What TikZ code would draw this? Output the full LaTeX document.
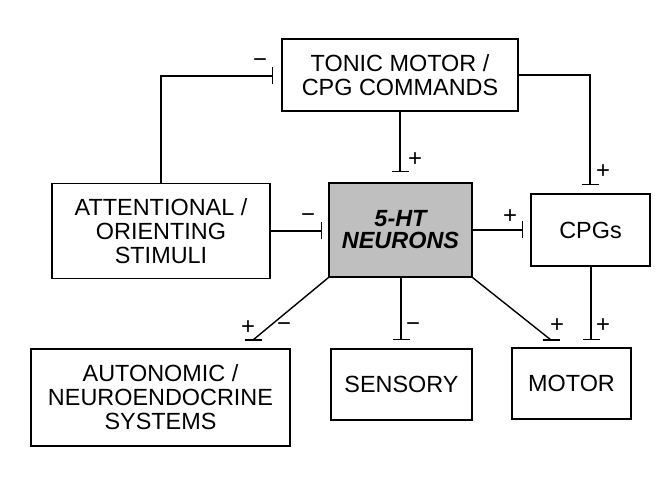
\documentclass[tikz,border=0pt]{standalone}
\usepackage{fontspec}
\setmainfont{Liberation Sans}
\usetikzlibrary{arrows.meta}
\begin{document}
\begin{tikzpicture}[x=1bp,y=-1bp,
  box/.style={draw,line width=1.4bp,align=center,inner sep=0pt,
    font=\fontsize{23.5}{24}\selectfont},
  inh/.style={line width=1.4bp,-{Bar[width=17bp,line width=1.4bp]}},
  plain/.style={line width=1.4bp},
  sign/.style={font=\fontsize{24}{24}\selectfont,inner sep=0pt}]
\useasboundingbox (0,0) rectangle (668,482);
\node[box,minimum width=236bp,minimum height=72bp] (ton) at (400,75) {TONIC MOTOR /\\CPG COMMANDS};
\node[box,minimum width=218bp,minimum height=95bp] (att) at (161,231) {ATTENTIONAL /\\ORIENTING\\STIMULI};
\node[box,minimum width=143bp,minimum height=94bp,fill=black!25,
  font=\fontsize{23.5}{22}\selectfont\bfseries\itshape] (ht) at (400.5,230) {5-HT\\NEURONS};
\node[box,minimum width=119bp,minimum height=72bp] (cpg) at (590.5,230) {CPGs};
\node[box,minimum width=259bp,minimum height=97bp] (aut) at (160.5,397.5) {AUTONOMIC /\\NEUROENDOCRINE\\SYSTEMS};
\node[box,minimum width=141bp,minimum height=71bp] (sen) at (401.5,384.5) {SENSORY};
\node[box,minimum width=119bp,minimum height=71bp] (mot) at (571.5,383.5) {MOTOR};
% free ends
\coordinate (e1) at (273,76);
\coordinate (e2) at (400,172);
\coordinate (e3) at (590,185);
\coordinate (e4) at (322,231);
\coordinate (e5) at (523,230);
\coordinate (e6) at (253,340);
\coordinate (e7) at (401,340);
\coordinate (e8) at (551,340);
\coordinate (e9) at (591,340);
\draw[inh] (att.north) |- (e1);
\draw[inh] (ton.south) -- (e2);
\draw[inh] (ton.east) -| (e3);
\draw[inh] (att.east |- e4) -- (e4);
\draw[inh] (ht.east |- e5) -- (e5);
\draw[plain] (ht.south west) -- (e6);
\draw[plain] ([xshift=-8.5bp]e6) -- ([xshift=8.5bp]e6);
\draw[inh] (ht.south -| e7) -- (e7);
\draw[plain] (ht.south east) -- (e8);
\draw[plain] ([xshift=-8.5bp]e8) -- ([xshift=8.5bp]e8);
\draw[inh] (cpg.south -| e9) -- (e9);
% signs
\node[sign] (s1) at (260,63) {−};
\node[sign] (s2) at (415,160) {+};
\node[sign] (s3) at (603,172) {+};
\node[sign] (s4) at (308,218) {−};
\node[sign] (s5) at (510,217) {+};
\node[sign] (s6) at (248,328) {+};
\node[sign] (s6b) at (284,327) {−};
\node[sign] (s7) at (413,327) {−};
\node[sign] (s8) at (557,326) {+};
\node[sign] (s9) at (603,326) {+};
\end{tikzpicture}
\end{document}
